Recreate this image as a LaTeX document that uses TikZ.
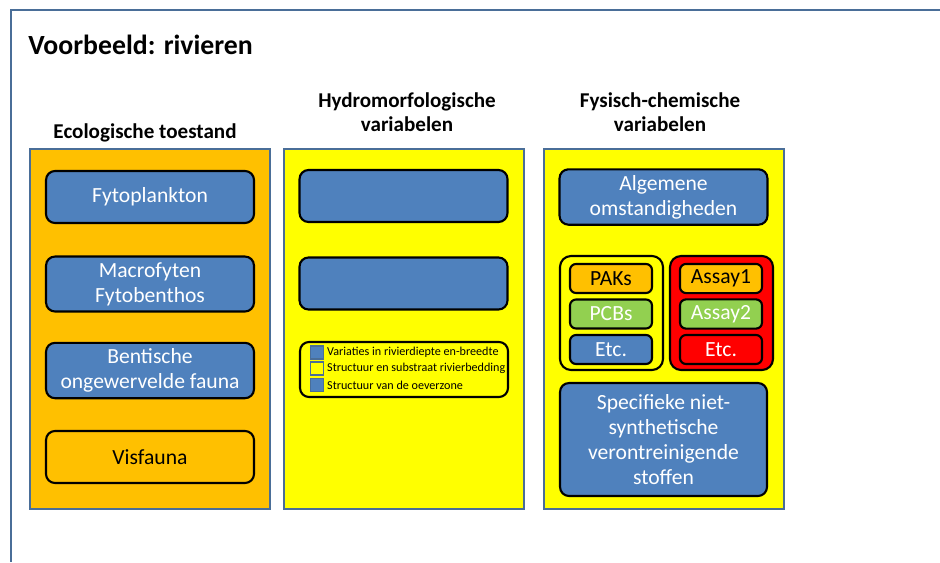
\documentclass[tikz,border=0pt]{standalone}
\usepackage{fontspec}
\setmainfont{Carlito}
\usetikzlibrary{positioning}
\definecolor{BoxBlue}{HTML}{4F81BD}
\definecolor{FrameBlue}{HTML}{4A6E98}
\definecolor{Amber}{HTML}{FFC000}
\definecolor{LeafGreen}{HTML}{92D050}
\definecolor{Lemon}{HTML}{FFFF00}
\definecolor{Signal}{HTML}{FF0000}

\begin{document}
\begin{tikzpicture}[
  x=0.02cm, y=-0.02cm,
  col/.style={rectangle,draw=FrameBlue,line width=1pt,inner sep=0pt,
              minimum width=4.8cm,minimum height=7.2cm},
  head/.style={align=center,font=\fontsize{12}{14}\selectfont\bfseries},
  var/.style={rectangle,rounded corners=0.18cm,draw=black,line width=1.2pt,
              fill=BoxBlue,text=white,align=center,
              minimum width=4.16cm,minimum height=1.04cm,
              font=\fontsize{12.3}{14.2}\selectfont},
  sub/.style={var,minimum width=1.64cm,minimum height=0.58cm,rounded corners=0.12cm},
  grp/.style={rectangle,rounded corners=0.22cm,draw=black,line width=1.2pt,
              minimum width=2.06cm,minimum height=2.28cm},
  leg/.style={rectangle,draw=FrameBlue,line width=0.8pt,fill=BoxBlue,
              inner sep=0pt,minimum size=0.26cm},
  legtext/.style={anchor=west,inner sep=1.5pt,font=\fontsize{6.9}{7}\selectfont}
]
  \useasboundingbox (0,0) rectangle (940,562);
  % frame and title
  \draw[FrameBlue,line width=1.2pt] (940,10) -- (11,10) -- (11,562);
  \node[anchor=west,inner sep=0pt,font=\fontsize{15.8}{18}\selectfont\bfseries]
    (title) at (28,45) {Voorbeeld: rivieren};

  % columns
  \node[col,fill=Amber]  (eco)   at (150,329) {};
  \node[col,fill=Lemon]  (hydro) at (404,329) {};
  \node[col,fill=Lemon]  (fys)   at (664,329) {};
  \node[head] (ecoH)   at (145,133) {Ecologische toestand};
  \node[head] (hydroH) at (407,112) {Hydromorfologische\\variabelen};
  \node[head] (fysH)   at (660,112) {Fysisch-chemische\\variabelen};

  % ecologische toestand
  \node[var] (fyto)   at (150,197)   {Fytoplankton};
  \node[var] (macro)  at (150,284) {Macrofyten\\Fytobenthos};
  \node[var] (bent)   at (150,370.5)   {Bentische\\ongewervelde fauna};
  \node[var,fill=Amber,text=black] (vis) at (150,457) {Visfauna};

  % hydromorfologie
  \node[var] (h1) at (403.5,196)   {};
  \node[var] (h2) at (403.5,283.5) {};
  \node[var,fill=Lemon,minimum height=1.1cm] (legend) at (404,369.5) {};
  \node[leg] (l1) at (317,352.5) {};
  \node[leg,fill=Lemon] (l2) at (317,368.5) {};
  \node[leg] (l3) at (317,385) {};
  \node[legtext] at (l1.east) {Variaties in rivierdiepte en-breedte};
  \node[legtext] at (l2.east) {Structuur en substraat rivierbedding};
  \node[legtext] at (l3.east) {Structuur van de oeverzone};

  % fysisch-chemisch
  \node[var] (alg) at (663.5,197) {Algemene\\omstandigheden};
  \node[grp,fill=Lemon]  (stof)  at (611.5,313) {};
  \node[grp,fill=Signal] (assay) at (721.5,313) {};
  \node[sub,fill=Amber,text=black]     (paks) at (611,278.5) {PAKs};
  \node[sub,fill=LeafGreen]            (pcbs) at (611,314)   {PCBs};
  \node[sub]                           (etc1) at (611,349.5) {Etc.};
  \node[sub,fill=Amber,text=black]     (as1)  at (721,278.5) {Assay1};
  \node[sub,fill=LeafGreen]            (as2)  at (721,314)   {Assay2};
  \node[sub,fill=Signal]               (etc2) at (721,349.5) {Etc.};
  \node[var,minimum width=4.14cm,minimum height=2.26cm] (spec) at (663.5,439.5)
    {Specifieke niet-\\synthetische\\verontreinigende\\stoffen};
\end{tikzpicture}
\end{document}
